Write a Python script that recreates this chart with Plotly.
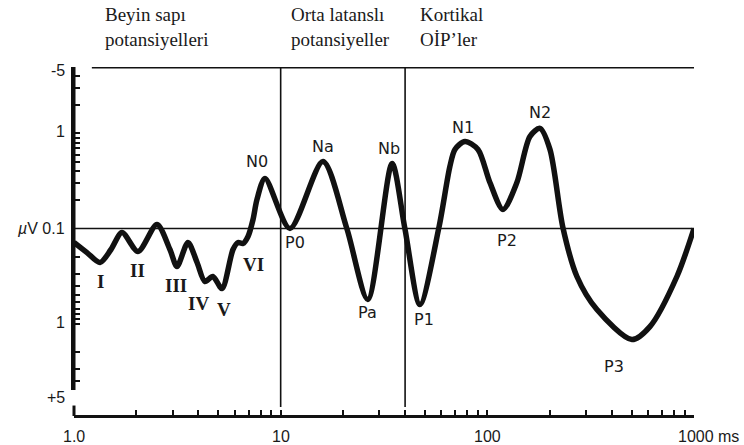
import numpy as np
import plotly.graph_objects as go

# Latency (ms, log axis) and response size in decades relative to 0.1 µV
# (negative polarity drawn upward, positive downward).
latency_ms = [1.0, 1.156, 1.336, 1.51, 1.707, 2.04, 2.52, 2.913, 3.15, 3.56,
              3.94, 4.30, 4.70, 5.20, 5.88, 6.22, 6.57, 6.95, 7.35, 7.68,
              8.40, 11.09, 16.02, 20.9, 26.4, 34.6, 39.9, 47.2, 58.3, 65.9,
              69.7, 77.9, 90.1, 102.9, 119.0, 139.0, 160.7, 179.7, 200.9,
              232.1, 271.3, 339.0, 500.7, 612.0, 826.6, 1000.0]
log_amp = [-0.147, -0.253, -0.358, -0.221, -0.042, -0.242, 0.042, -0.221,
           -0.400, -0.147, -0.358, -0.558, -0.505, -0.632, -0.221, -0.147,
           -0.158, -0.084, 0.095, 0.305, 0.526, 0.0, 0.705, 0.0, -0.747,
           0.684, 0.0, -0.800, 0.010, 0.653, 0.832, 0.916, 0.832, 0.484,
           0.200, 0.484, 0.968, 1.053, 0.832, 0.010, -0.505, -0.853, -1.168,
           -1.032, -0.505, 0.0]

# Peak names with label anchor points (ms, decades)
roman_labels = ["I", "II", "III", "IV", "V", "VI"]
roman_x = [1.336, 2.04, 3.115, 4.02, 5.32, 7.35]
roman_y = [-0.558, -0.442, -0.60, -0.79, -0.853, -0.379]

wave_labels = ["N0", "P0", "Na", "Pa", "Nb", "P1", "N1", "P2", "N2", "P3"]
wave_x = [7.68, 11.7, 16.0, 26.4, 33.4, 49.2, 76.2, 124.0, 179.7, 408.0]
wave_y = [0.705, -0.147, 0.863, -0.884, 0.842, -0.958, 1.063, -0.126, 1.221, -1.453]

# Response groups shown above the trace
group_titles = ["Beyin sapı<br>potansiyelleri",
                "Orta latanslı<br>potansiyeller",
                "Kortikal<br>OİP’ler"]
group_x = [0.047, 0.347, 0.555]

# Axis labelling (amplitude labels given on the paper height)
x_tick_vals = [1, 10, 100, 1000]
x_tick_text = ["1.0", "10", "100", "1000 ms"]
y_label_pos = [0.991, 0.814, 0.536, 0.269, 0.054]
y_label_text = ["-5", "1", "<i>µ</i>V 0.1", "1", "+5"]
boundary_ms = [10, 40]

amp_steps = [0.2, 0.3, 0.4, 0.5, 0.6, 0.7, 0.8, 0.9, 1, 2, 3, 4, 5]
y_ticks = [float(np.log10(a / 0.1)) for a in amp_steps]
y_ticks = y_ticks + [-t for t in y_ticks]
x_minor = [m * 10 ** d for d in range(3) for m in range(1, 10)] + [1000]
top = float(np.log10(5 / 0.1))

INK = "#111111"
TXT = "#1a1a1a"
Y_DOMAIN = [0.0745, 1.0]


def xpaper(ms):
    # position of a latency on the paper width (x range spans 1 to 1000 ms)
    return float(np.log10(ms)) / 3


fig = go.Figure()
fig.add_trace(go.Scatter(
    x=latency_ms, y=log_amp, mode="lines",
    line=dict(color=INK, width=5.5, shape="spline", smoothing=0.8),
    hoverinfo="skip", showlegend=False))

shapes = [
    # amplitude axis line
    dict(type="line", xref="paper", yref="paper", x0=0, x1=0,
         y0=Y_DOMAIN[0], y1=Y_DOMAIN[1], line=dict(color=INK, width=3)),
    # start tick of the time axis
    dict(type="line", xref="paper", yref="paper", x0=0, x1=0, y0=0, y1=0.03,
         line=dict(color=INK, width=3)),
    # baseline at 0.1 µV
    dict(type="line", xref="x", yref="y", x0=1, x1=1000, y0=0, y1=0,
         line=dict(color=INK, width=1.6)),
    # upper frame line
    dict(type="line", xref="paper", yref="paper", x0=xpaper(1.22), x1=1,
         y0=0.998, y1=0.998, line=dict(color=INK, width=1.6)),
]
for b in boundary_ms:
    shapes.append(dict(type="line", xref="paper", yref="paper",
                       x0=xpaper(b), x1=xpaper(b), y0=0.026, y1=0.998,
                       line=dict(color=INK, width=1.6)))

annotations = []
for t, x, y in zip(roman_labels, roman_x, roman_y):
    annotations.append(dict(x=np.log10(x), y=y, xref="x", yref="y", text=f"<b>{t}</b>",
                            showarrow=False,
                            font=dict(family="Liberation Serif", size=19, color=TXT)))
for t, x, y in zip(wave_labels, wave_x, wave_y):
    annotations.append(dict(x=np.log10(x), y=y, xref="x", yref="y", text=t,
                            showarrow=False,
                            font=dict(family="DejaVu Sans", size=16, color=TXT)))
for t, x in zip(group_titles, group_x):
    annotations.append(dict(x=x, y=1.115, xref="paper", yref="paper", text=t,
                            showarrow=False, xanchor="left", yanchor="middle", align="left",
                            font=dict(family="Liberation Serif", size=19, color=TXT)))
for t, y in zip(y_label_text, y_label_pos):
    annotations.append(dict(x=-0.012, y=y, xref="paper", yref="paper", text=t,
                            showarrow=False, xanchor="right", yanchor="middle",
                            font=dict(family="Liberation Sans", size=16, color=TXT)))
for v, t in zip(x_tick_vals, x_tick_text):
    if t.endswith("ms"):
        annotations.append(dict(x=np.log10(v), y=-0.058, xref="x", yref="paper",
                                text=t, showarrow=False, xanchor="left", xshift=-18,
                                yanchor="middle",
                                font=dict(family="Liberation Sans", size=16, color=TXT)))
    else:
        annotations.append(dict(x=np.log10(v), y=-0.058, xref="x", yref="paper",
                                text=t, showarrow=False, xanchor="center",
                                yanchor="middle",
                                font=dict(family="Liberation Sans", size=16, color=TXT)))

fig.update_layout(
    width=744, height=445,
    margin=dict(l=74, r=50, t=67, b=29),
    paper_bgcolor="white", plot_bgcolor="white",
    shapes=shapes, annotations=annotations,
    xaxis=dict(type="log", range=[0, 3], showgrid=False, zeroline=False,
               anchor="free", position=0,
               showline=True, linecolor=INK, linewidth=3,
               ticks="inside", ticklen=5, tickwidth=2, tickcolor=INK,
               tickmode="array", tickvals=x_minor, showticklabels=False),
    yaxis=dict(range=[-top, top], domain=Y_DOMAIN, showgrid=False, zeroline=False,
               showline=True, linecolor=INK, linewidth=3,
               ticks="inside", ticklen=6, tickwidth=2, tickcolor=INK,
               tickmode="array", tickvals=y_ticks, showticklabels=False),
)

fig.write_html("out.html")
